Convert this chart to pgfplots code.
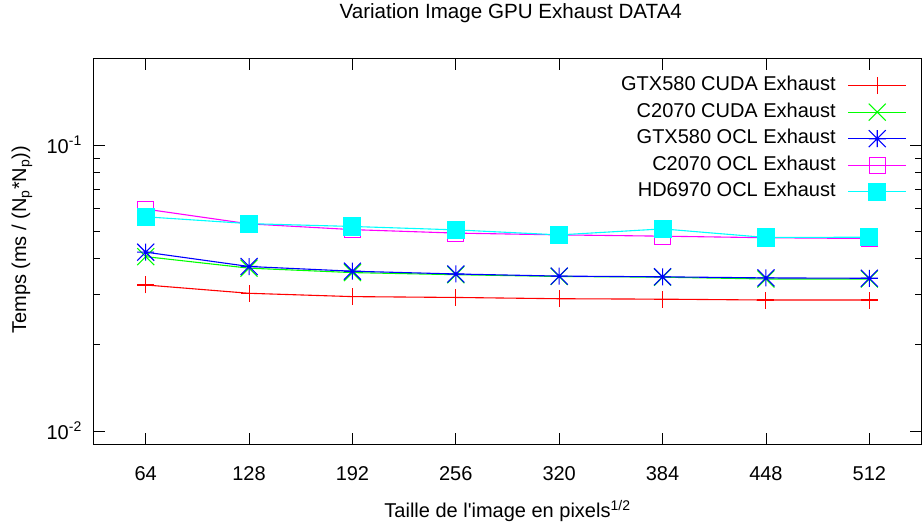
\documentclass[border=0pt]{standalone}
\usepackage{fontspec}
\setmainfont{Liberation Sans}
\usepackage{pgfplots}
\pgfplotsset{compat=1.18}

\definecolor{gpred}{RGB}{255,0,0}
\definecolor{gpgreen}{RGB}{0,255,0}
\definecolor{gpblue}{RGB}{0,0,255}
\definecolor{gpmagenta}{RGB}{255,0,255}
\definecolor{gpcyan}{RGB}{0,255,255}

% gnuplot-like point types
\pgfdeclareplotmark{gpplus}{%
  \pgfpathmoveto{\pgfqpoint{-\pgfplotmarksize}{0pt}}\pgfpathlineto{\pgfqpoint{\pgfplotmarksize}{0pt}}%
  \pgfpathmoveto{\pgfqpoint{0pt}{-\pgfplotmarksize}}\pgfpathlineto{\pgfqpoint{0pt}{\pgfplotmarksize}}%
  \pgfusepathqstroke}
\pgfdeclareplotmark{gpcross}{%
  \pgfpathmoveto{\pgfqpoint{-\pgfplotmarksize}{-\pgfplotmarksize}}\pgfpathlineto{\pgfqpoint{\pgfplotmarksize}{\pgfplotmarksize}}%
  \pgfpathmoveto{\pgfqpoint{-\pgfplotmarksize}{\pgfplotmarksize}}\pgfpathlineto{\pgfqpoint{\pgfplotmarksize}{-\pgfplotmarksize}}%
  \pgfusepathqstroke}
\pgfdeclareplotmark{gpstar}{%
  \pgfpathmoveto{\pgfqpoint{-\pgfplotmarksize}{0pt}}\pgfpathlineto{\pgfqpoint{\pgfplotmarksize}{0pt}}%
  \pgfpathmoveto{\pgfqpoint{0pt}{-\pgfplotmarksize}}\pgfpathlineto{\pgfqpoint{0pt}{\pgfplotmarksize}}%
  \pgfpathmoveto{\pgfqpoint{-\pgfplotmarksize}{-\pgfplotmarksize}}\pgfpathlineto{\pgfqpoint{\pgfplotmarksize}{\pgfplotmarksize}}%
  \pgfpathmoveto{\pgfqpoint{-\pgfplotmarksize}{\pgfplotmarksize}}\pgfpathlineto{\pgfqpoint{\pgfplotmarksize}{-\pgfplotmarksize}}%
  \pgfusepathqstroke}

\newcommand{\gpfont}{\fontsize{20}{24}\selectfont}

\begin{document}
\begin{tikzpicture}
\begin{axis}[
  scale only axis, width=827pt, height=385pt,
  at={(0,0)}, anchor=south west,
  xmin=32, xmax=544,
  ymode=log, ymin=0.009, ymax=0.2,
  xtick={64,128,192,256,320,384,448,512},
  xticklabels={64,128,192,256,320,384,448,512},
  ytick={0.01,0.1},
  yticklabels={10\textsuperscript{-2},10\textsuperscript{-1}},
  minor ytick={0.02,0.03,0.04,0.05,0.06,0.07,0.08,0.09},
  major tick length=11pt, minor tick length=5.7pt,
  tick align=inside,
  tick style={black, line width=0.8pt},
  axis line style={line width=1pt},
  tick label style={font=\gpfont},
  xticklabel style={anchor=north, inner sep=0pt, yshift=-22pt},
  yticklabel style={anchor=east, inner sep=0pt, xshift=-12pt},
  title={Variation Image GPU Exhaust DATA4},
  title style={font=\fontsize{20.6}{24}\selectfont, at={(axis description cs:0.504,1)}, anchor=center, yshift=40pt},
  xlabel={Taille de l\textquotesingle image en pixels\textsuperscript{1/2}},
  xlabel style={font=\gpfont, at={(axis description cs:0.5,0)}, anchor=center, yshift=-67pt},
  ylabel={Temps (ms / (N\textsubscript{p}*N\textsubscript{p}))},
  ylabel style={font=\gpfont, at={(axis description cs:0,0.53)}, anchor=center, yshift=72pt},
  legend plot pos=right,
  legend cell align=right,
  legend style={font=\gpfont, draw=none, fill=none, at={(1,1)}, anchor=north east,
    xshift=-11pt, yshift=-14.5pt, column sep=12pt, row sep=6.5pt,
    nodes={inner sep=0pt, text height=15pt, text depth=5pt}},
  legend image code/.code={\draw[mark repeat=2,mark phase=2] plot coordinates {(0pt,0pt) (29pt,0pt) (58pt,0pt)};},
  every axis plot/.append style={line width=1.1pt},
]
\addplot[gpred, mark=gpplus, mark size=8.5pt, mark options={draw=gpred}] coordinates {
  (64,0.0324) (128,0.0303) (192,0.0295) (256,0.0293) (320,0.0290) (384,0.0289) (448,0.0287) (512,0.0287)
};
\addlegendentry{GTX580 CUDA Exhaust}
\addplot[gpgreen, mark=gpcross, mark size=8.5pt, mark options={draw=gpgreen}] coordinates {
  (64,0.0407) (128,0.0371) (192,0.0358) (256,0.0352) (320,0.0347) (384,0.0345) (448,0.0340) (512,0.0340)
};
\addlegendentry{C2070 CUDA Exhaust}
\addplot[gpblue, mark=gpstar, mark size=8.5pt, mark options={draw=gpblue}] coordinates {
  (64,0.0422) (128,0.0376) (192,0.0362) (256,0.0354) (320,0.0348) (384,0.0346) (448,0.0343) (512,0.0342)
};
\addlegendentry{GTX580 OCL Exhaust}
\addplot[gpmagenta, mark=square, mark size=8pt, mark options={draw=gpmagenta}] coordinates {
  (64,0.0597) (128,0.0530) (192,0.0506) (256,0.0492) (320,0.0485) (384,0.0480) (448,0.0474) (512,0.0471)
};
\addlegendentry{C2070 OCL Exhaust}
\addplot[gpcyan, mark=square*, mark size=8.5pt, mark options={draw=gpcyan, fill=gpcyan}] coordinates {
  (64,0.0561) (128,0.0531) (192,0.0519) (256,0.0505) (320,0.0485) (384,0.0509) (448,0.0475) (512,0.0476)
};
\addlegendentry{HD6970 OCL Exhaust}
\end{axis}
\pgfresetboundingbox
\path (-94pt,-85pt) rectangle (828pt,444pt);
\end{tikzpicture}
\end{document}
